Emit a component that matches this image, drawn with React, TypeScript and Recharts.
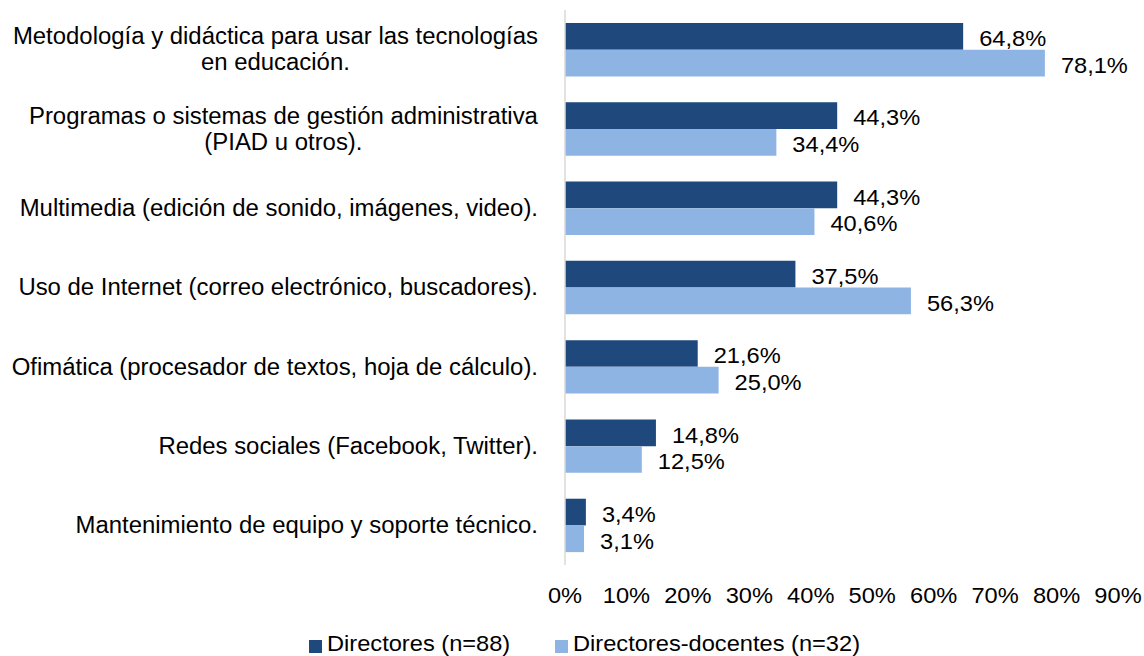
import React from "react";
import { BarChart, Bar, XAxis, YAxis, Legend, LabelList } from "recharts";

const categories = [
  "Metodología y didáctica para usar las tecnologías\nen educación.",
  "Programas o sistemas de gestión administrativa\n(PIAD u otros).",
  "Multimedia (edición de sonido, imágenes, video).",
  "Uso de Internet (correo electrónico, buscadores).",
  "Ofimática (procesador de textos, hoja de cálculo).",
  "Redes sociales (Facebook, Twitter).",
  "Mantenimiento de equipo y soporte técnico.",
];
const directores = [64.8, 44.3, 44.3, 37.5, 21.6, 14.8, 3.4];
const docentes = [78.1, 34.4, 40.6, 56.3, 25.0, 12.5, 3.1];
const xTicks = [0, 10, 20, 30, 40, 50, 60, 70, 80, 90];
const seriesNames = ["Directores (n=88)", "Directores-docentes (n=32)"];

const DARK = "#1F497D";
const LIGHT = "#8EB4E3";
const FONT = '"Liberation Sans", Arial, sans-serif';
const FS = 22.3;
// the source text is a bit stretched horizontally
const SX = 1.06;
const CAT_FS = 23;
const CAT_SX = 1.04;

let ctx: CanvasRenderingContext2D | null = null;
const measure = (s: string, size = FS) => {
  if (!ctx) ctx = document.createElement("canvas").getContext("2d");
  if (!ctx) return s.length * size * 0.5;
  ctx.font = `${size}px ${FONT}`;
  return ctx.measureText(s).width;
};

const data = categories.map((c, i) => ({
  name: c,
  dir: directores[i],
  doc: docentes[i],
}));

const fmt = (v: number) => v.toFixed(1).replace(".", ",") + "%";

const CategoryTick = (props: any) => {
  const { x, y, payload } = props;
  const lines: string[] = String(payload.value).split("\n");
  const lh = 26;
  const maxW = Math.max(...lines.map((l) => measure(l, CAT_FS)));
  const y0 = -((lines.length - 1) * lh) / 2;
  return (
    <g transform={`translate(${x},${y}) scale(${CAT_SX},1)`}>
      <text
        fontFamily={FONT}
        fontSize={CAT_FS}
        fill="#000"
        textAnchor={lines.length > 1 ? "middle" : "end"}
        dominantBaseline="central"
      >
        {lines.map((l, i) => (
          <tspan key={i} x={lines.length > 1 ? -maxW / 2 : 0} y={y0 + i * lh}>
            {l}
          </tspan>
        ))}
      </text>
    </g>
  );
};

const PctTick = (props: any) => {
  const { x, y, payload } = props;
  return (
    <g transform={`translate(${x},${y}) scale(${SX},1)`}>
      <text fontFamily={FONT} fontSize={FS} fill="#000" textAnchor="middle" dy="0.71em">
        {payload.value}%
      </text>
    </g>
  );
};

const ValueLabel = (props: any) => {
  const { x, y, width, height, value } = props;
  return (
    <g transform={`translate(${x + width + 16},${y + height / 2 + 2}) scale(${SX},1)`}>
      <text fontFamily={FONT} fontSize={FS} fill="#000" dominantBaseline="central">
        {fmt(value)}
      </text>
    </g>
  );
};

const LegendContent = () => {
  const colors = [DARK, LIGHT];
  return (
    <div
      style={{
        display: "flex",
        alignItems: "center",
        height: 28,
        paddingLeft: 309,
        position: "relative",
        top: 2,
        fontFamily: FONT,
        fontSize: FS,
        color: "#000",
      }}
    >
      {seriesNames.map((n, i) => (
        <div key={n} style={{ display: "flex", alignItems: "center", marginRight: 45 }}>
          <span
            style={{ width: 13, height: 13, background: colors[i], marginRight: 5, marginTop: 5 }}
          />
          <span style={{ width: measure(n) * SX, whiteSpace: "nowrap" }}>
            <span style={{ display: "inline-block", transform: `scaleX(${SX})`, transformOrigin: "left" }}>
              {n}
            </span>
          </span>
        </div>
      ))}
    </div>
  );
};

export default function App() {
  return (
    <div style={{ position: "absolute", left: 0, top: 0, width: 1144, height: 656, background: "#fff" }}>
      <BarChart
        width={1144}
        height={656}
        data={data}
        layout="vertical"
        margin={{ top: 10, right: 26, left: 0, bottom: 0 }}
        barGap={0}
      >
        <XAxis
          type="number"
          domain={[0, 90]}
          ticks={xTicks}
          interval={0}
          axisLine={false}
          tickLine={false}
          tickSize={0}
          tickMargin={22}
          height={63}
          tick={<PctTick />}
        />
        <YAxis
          type="category"
          dataKey="name"
          width={565}
          interval={0}
          axisLine={{ stroke: "#d9d9d9", strokeWidth: 1.5 }}
          tickLine={false}
          tickSize={0}
          tickMargin={27}
          tick={<CategoryTick />}
        />
        <Legend verticalAlign="bottom" align="left" height={28} content={<LegendContent />} />
        <Bar dataKey="dir" name={seriesNames[0]} fill={DARK} barSize={26.7} isAnimationActive={false}>
          <LabelList dataKey="dir" content={<ValueLabel />} />
        </Bar>
        <Bar dataKey="doc" name={seriesNames[1]} fill={LIGHT} barSize={26.7} isAnimationActive={false}>
          <LabelList dataKey="doc" content={<ValueLabel />} />
        </Bar>
      </BarChart>
    </div>
  );
}
